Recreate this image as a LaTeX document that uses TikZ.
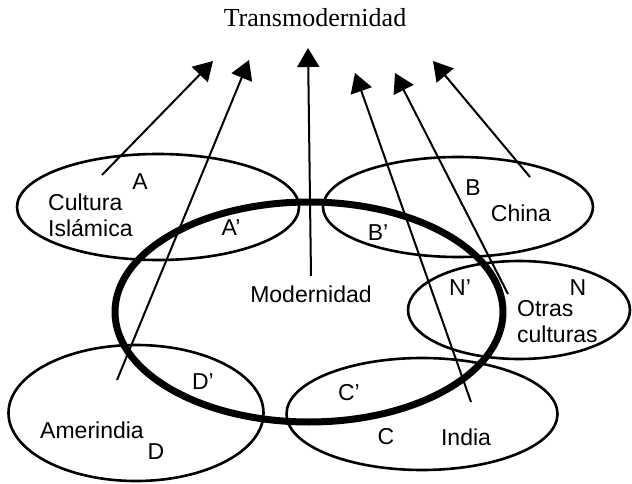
\documentclass[tikz,border=0pt]{standalone}
\usepackage{fontspec}
\setmainfont{Liberation Sans}
\newfontfamily\titlefont{Liberation Serif}
\usetikzlibrary{shapes.geometric,arrows.meta}

\tikzset{
  region/.style={draw,ellipse,line width=2.6pt,inner sep=0pt},
  moderna/.style={draw,ellipse,line width=7pt,inner sep=0pt},
  lbl/.style={inner sep=0pt,font=\fontsize{23}{26}\selectfont},
  flecha/.style={line width=2pt,-{Triangle[length=19pt,width=22pt]}}
}

\begin{document}
\begin{tikzpicture}[x=1pt,y=-1pt]
  \useasboundingbox (0,0) rectangle (632,484);

  \node (titulo) at (315,18) {\titlefont\fontsize{26}{30}\selectfont Transmodernidad};

  % culturas
  \node[region,minimum width=282pt,minimum height=106pt] (islam) at (158,207) {};
  \node[region,minimum width=270pt,minimum height=100pt] (china) at (458,207) {};
  \node[region,minimum width=222pt,minimum height=98pt] (otras) at (519,310) {};
  \node[region,minimum width=255pt,minimum height=136pt] (amer) at (136,413) {};
  \node[region,minimum width=271pt,minimum height=112pt] (india) at (422,414) {};
  \node[moderna,minimum width=388pt,minimum height=220pt] (moder) at (309,312) {};

  % textos
  \node[lbl,anchor=west,align=left] (tislam) at (48,215) {Cultura\\Islámica};
  \node[lbl] (la) at (140,182) {A};
  \node[lbl] (lap) at (231,228) {A’};
  \node[lbl] (lb) at (473,188) {B};
  \node[lbl] (tchina) at (521,213) {China};
  \node[lbl] (lbp) at (378,233) {B’};
  \node[lbl] (lnp) at (460,288) {N’};
  \node[lbl] (ln) at (578,288) {N};
  \node[lbl,anchor=west,align=left] (totras) at (517,322) {Otras\\culturas};
  \node[lbl] (tmoder) at (311,294) {Modernidad};
  \node[lbl] (tamer) at (92,430) {Amerindia};
  \node[lbl] (ld) at (156,452) {D};
  \node[lbl] (ldp) at (203,382) {D’};
  \node[lbl] (lcp) at (349,393) {C’};
  \node[lbl] (lc) at (386,437) {C};
  \node[lbl] (tindia) at (466,437) {India};

  % flechas
  \coordinate (s1) at (102,175);
  \coordinate (s2) at (117,380);
  \coordinate (s3) at (311,276);
  \coordinate (s4) at (471,402);
  \coordinate (s5) at (508,294);
  \coordinate (s6) at (530,177);
  \coordinate (e1) at (213,61);
  \coordinate (e2) at (249,60);
  \coordinate (e3) at (308,48);
  \coordinate (e4) at (355,73);
  \coordinate (e5) at (395,73);
  \coordinate (e6) at (433,61);
  \foreach \i in {1,...,6}
    \draw[flecha] (s\i) -- (e\i);
\end{tikzpicture}
\end{document}
